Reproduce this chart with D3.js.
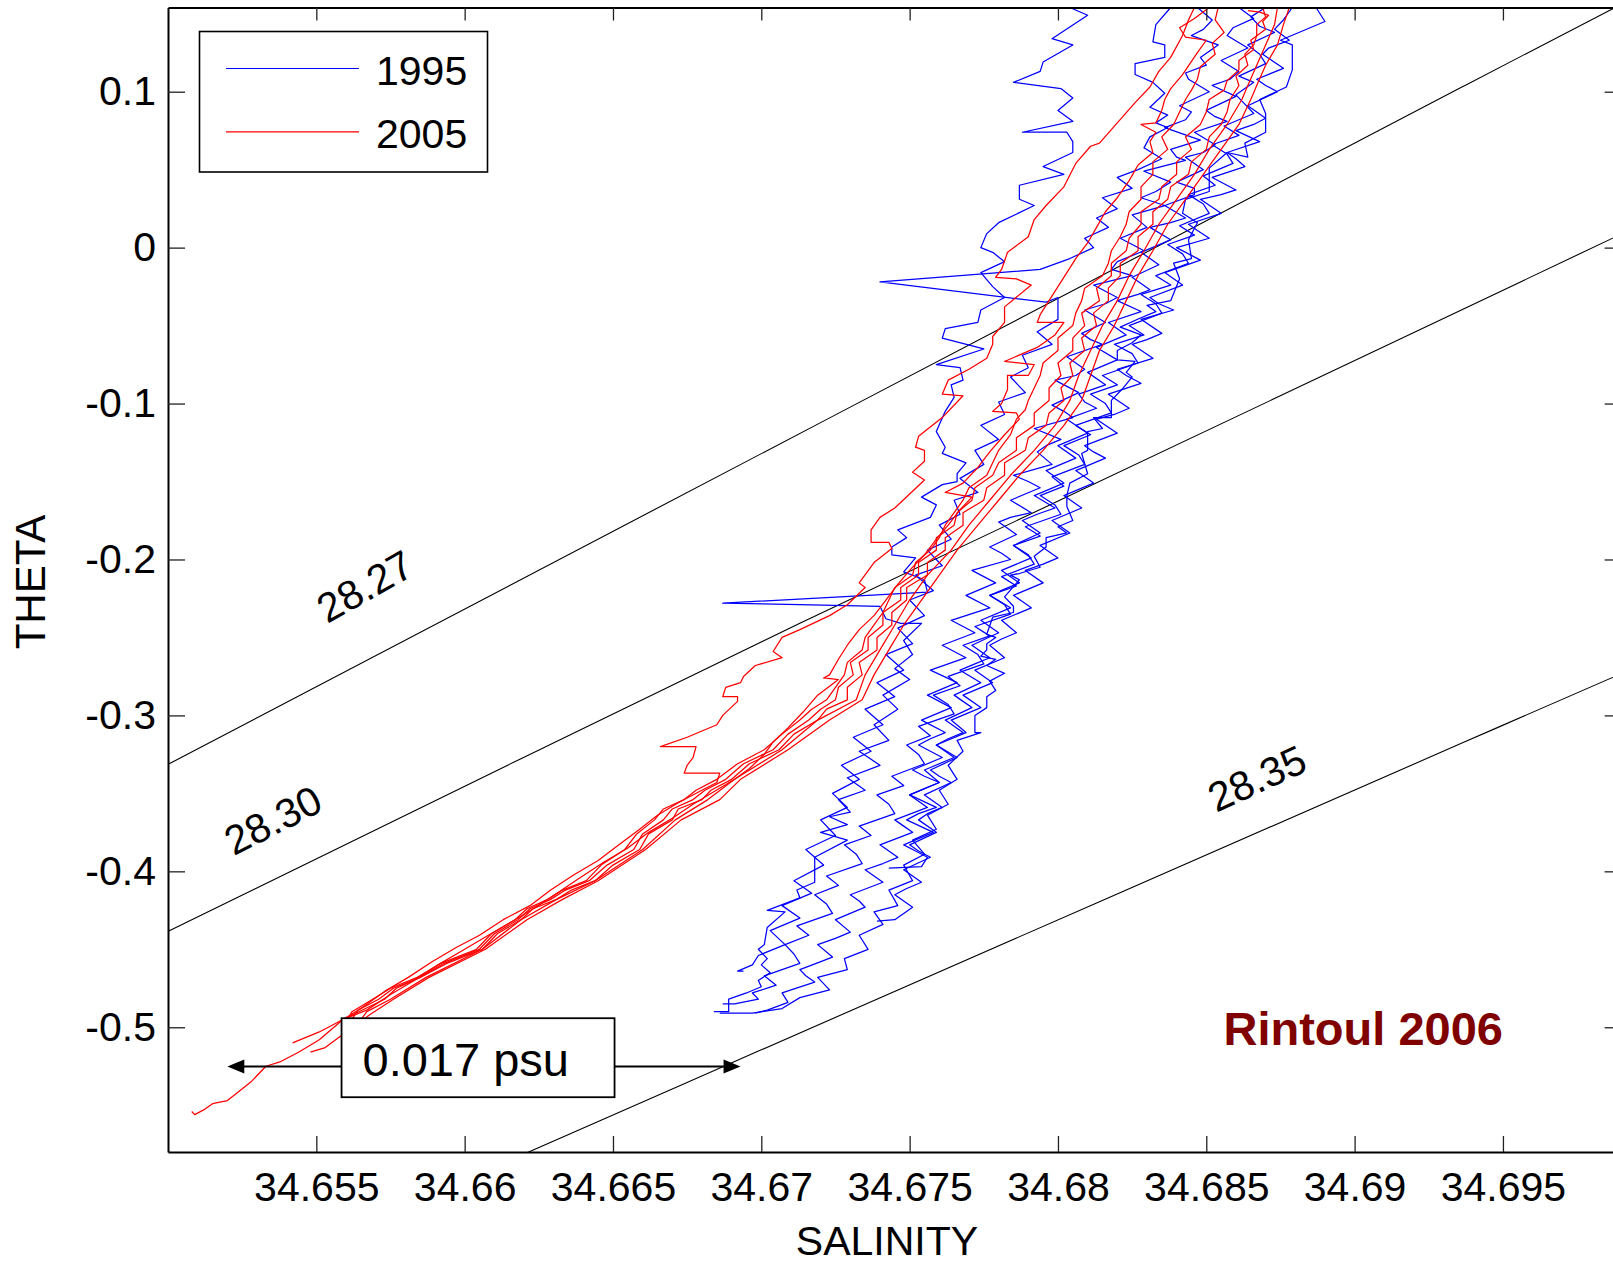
<!DOCTYPE html>
<html>
<head>
<meta charset="utf-8">
<script src="https://cdn.jsdelivr.net/npm/d3@7"></script>
<style>
  body { margin: 0; background: #fff; }
  svg { display: block; }
  text { font-family: "Liberation Sans", Arial, Helvetica, sans-serif; }
</style>
</head>
<body>
<script>
// axis ticks
const salinityTicks = [34.655, 34.66, 34.665, 34.67, 34.675, 34.68, 34.685, 34.69, 34.695];
const thetaTicks = [0.1, 0, -0.1, -0.2, -0.3, -0.4, -0.5];
const years = ["1995", "2005"];

// isopycnals [salinity, theta]
const sigmaLevels = ["28.27", "28.30", "28.35"];
const iso2827 = [[34.6495, -0.3364], [34.6936, 0.1028], [34.6990, 0.1562]];
const iso2830 = [[34.6495, -0.4432], [34.6713, -0.2409], [34.6881, -0.0896], [34.6991, 0.0097]];
const iso2835 = [[34.6615, -0.5855], [34.6700, -0.5145], [34.6936, -0.3179], [34.6991, -0.2723]];

// 1995 casts [salinity, theta]
const cast95a = [[34.6804,.154],[34.6810,.149],[34.6798,.134],[34.6805,.130],[34.6795,.119],[34.6794,.113],[34.6785,.106],[34.6801,.102],[34.6805,.096],[34.6800,.088],[34.6805,.081],[34.6788,.074],[34.6803,.074],[34.6805,.068],[34.6805,.061],[34.6795,.052],[34.6802,.047],[34.6787,.040],[34.6787,.031],[34.6792,.027],[34.6780,.016],[34.6776,.009],[34.6774,.000],[34.6778,-.003],[34.6782,-.009],[34.6774,-.016],[34.6778,-.025],[34.6782,-.032],[34.6774,-.040],[34.6773,-.048],[34.6762,-.052],[34.6761,-.058],[34.6775,-.065],[34.6759,-.075],[34.6767,-.077],[34.6768,-.085],[34.6764,-.088],[34.6765,-.096],[34.6762,-.105],[34.6759,-.118],[34.6762,-.128],[34.6761,-.132],[34.6769,-.138],[34.6766,-.145],[34.6766,-.150],[34.6761,-.152],[34.6754,-.160],[34.6759,-.165],[34.6757,-.173],[34.6746,-.181],[34.6749,-.186],[34.6744,-.192],[34.6744,-.197],[34.6752,-.199],[34.6748,-.208],[34.6755,-.213],[34.6756,-.221],[34.6687,-.228],[34.6713,-.229],[34.6740,-.230],[34.6742,-.238],[34.6747,-.241],[34.6754,-.241],[34.6748,-.252],[34.6751,-.261],[34.6745,-.270],[34.6750,-.277],[34.6741,-.287],[34.6746,-.296],[34.6738,-.306],[34.6743,-.316],[34.6733,-.323],[34.6740,-.332],[34.6729,-.340],[34.6735,-.348],[34.6726,-.354],[34.6730,-.362],[34.6723,-.365],[34.6729,-.370],[34.6720,-.375],[34.6729,-.380],[34.6718,-.391],[34.6718,-.407],[34.6712,-.412],[34.6713,-.417],[34.6702,-.425],[34.6708,-.426],[34.6702,-.436],[34.6701,-.447],[34.6699,-.450],[34.6702,-.456],[34.6700,-.460],[34.6703,-.465],[34.6699,-.470],[34.6700,-.474],[34.6695,-.478],[34.6689,-.482],[34.6689,-.490],[34.6684,-.490]];
const cast95b = [[34.6838,.154],[34.6833,.143],[34.6832,.132],[34.6836,.130],[34.6836,.122],[34.6826,.118],[34.6826,.111],[34.6832,.106],[34.6836,.099],[34.6831,.090],[34.6837,.085],[34.6833,.080],[34.6837,.077],[34.6831,.071],[34.6829,.064],[34.6835,.057],[34.6827,.050],[34.6820,.045],[34.6825,.038],[34.6815,.032],[34.6820,.025],[34.6813,.019],[34.6817,.013],[34.6809,.006],[34.6812,.000],[34.6804,-.007],[34.6794,-.014],[34.6740,-.022],[34.6796,-.035],[34.6800,-.032],[34.6800,-.046],[34.6793,-.054],[34.6798,-.062],[34.6788,-.069],[34.6790,-.077],[34.6784,-.083],[34.6789,-.093],[34.6780,-.099],[34.6782,-.107],[34.6774,-.114],[34.6780,-.123],[34.6772,-.130],[34.6775,-.139],[34.6767,-.148],[34.6773,-.157],[34.6765,-.162],[34.6767,-.171],[34.6760,-.178],[34.6764,-.187],[34.6756,-.194],[34.6761,-.204],[34.6752,-.210],[34.6758,-.220],[34.6750,-.226],[34.6755,-.236],[34.6746,-.244],[34.6751,-.254],[34.6742,-.261],[34.6748,-.271],[34.6739,-.279],[34.6745,-.288],[34.6735,-.296],[34.6741,-.306],[34.6731,-.314],[34.6737,-.323],[34.6727,-.332],[34.6733,-.341],[34.6724,-.350],[34.6729,-.359],[34.6720,-.367],[34.6725,-.377],[34.6715,-.386],[34.6721,-.396],[34.6711,-.406],[34.6717,-.414],[34.6707,-.422],[34.6713,-.430],[34.6703,-.438],[34.6708,-.447],[34.6699,-.454],[34.6697,-.460],[34.6692,-.464],[34.6694,-.464]];
const cast95c = [[34.6847,.154],[34.6852,.146],[34.6849,.140],[34.6845,.136],[34.6854,.130],[34.6848,.122],[34.6850,.117],[34.6843,.112],[34.6844,.108],[34.6851,.100],[34.6841,.091],[34.6845,.087],[34.6843,.082],[34.6836,.077],[34.6848,.069],[34.6838,.063],[34.6840,.058],[34.6843,.056],[34.6829,.049],[34.6838,.042],[34.6833,.036],[34.6828,.032],[34.6836,.027],[34.6825,.021],[34.6830,.013],[34.6821,.006],[34.6826,.001],[34.6829,-.002],[34.6820,-.009],[34.6818,-.014],[34.6825,-.018],[34.6812,-.024],[34.6820,-.032],[34.6816,-.036],[34.6809,-.040],[34.6816,-.048],[34.6808,-.055],[34.6811,-.059],[34.6815,-.062],[34.6803,-.070],[34.6809,-.078],[34.6806,-.082],[34.6799,-.085],[34.6807,-.093],[34.6798,-.101],[34.6802,-.105],[34.6805,-.109],[34.6792,-.116],[34.6801,-.123],[34.6796,-.127],[34.6793,-.131],[34.6798,-.139],[34.6785,-.146],[34.6790,-.150],[34.6794,-.154],[34.6784,-.162],[34.6791,-.170],[34.6784,-.173],[34.6780,-.176],[34.6786,-.184],[34.6777,-.192],[34.6781,-.196],[34.6784,-.200],[34.6771,-.207],[34.6779,-.215],[34.6774,-.219],[34.6769,-.223],[34.6777,-.231],[34.6764,-.239],[34.6768,-.243],[34.6772,-.247],[34.6761,-.255],[34.6769,-.263],[34.6763,-.267],[34.6757,-.271],[34.6766,-.279],[34.6756,-.287],[34.6760,-.291],[34.6764,-.295],[34.6754,-.303],[34.6762,-.311],[34.6757,-.315],[34.6753,-.319],[34.6761,-.327],[34.6751,-.335],[34.6755,-.339],[34.6760,-.343],[34.6750,-.351],[34.6759,-.359],[34.6753,-.363],[34.6749,-.367],[34.6758,-.375],[34.6748,-.383],[34.6752,-.387],[34.6756,-.391],[34.6754,-.397],[34.6743,-.398]];
const cast95d = [[34.6861,.154],[34.6866,.147],[34.6859,.141],[34.6857,.136],[34.6864,.128],[34.6855,.120],[34.6861,.113],[34.6858,.108],[34.6852,.104],[34.6860,.097],[34.6850,.088],[34.6853,.084],[34.6857,.081],[34.6846,.074],[34.6853,.066],[34.6849,.061],[34.6843,.058],[34.6849,.050],[34.6840,.042],[34.6846,.038],[34.6846,.034],[34.6836,.027],[34.6843,.019],[34.6838,.016],[34.6831,.013],[34.6838,.005],[34.6828,-.003],[34.6831,-.007],[34.6834,-.011],[34.6825,-.019],[34.6831,-.027],[34.6827,-.030],[34.6820,-.034],[34.6828,-.041],[34.6817,-.048],[34.6820,-.052],[34.6823,-.056],[34.6813,-.064],[34.6820,-.072],[34.6815,-.076],[34.6810,-.080],[34.6816,-.088],[34.6807,-.094],[34.6809,-.099],[34.6813,-.103],[34.6803,-.110],[34.6810,-.119],[34.6805,-.123],[34.6800,-.127],[34.6806,-.135],[34.6796,-.143],[34.6799,-.147],[34.6802,-.151],[34.6792,-.159],[34.6799,-.167],[34.6793,-.171],[34.6788,-.175],[34.6794,-.183],[34.6785,-.191],[34.6788,-.195],[34.6791,-.199],[34.6781,-.207],[34.6787,-.215],[34.6782,-.219],[34.6777,-.223],[34.6784,-.231],[34.6774,-.239],[34.6777,-.243],[34.6780,-.247],[34.6771,-.255],[34.6777,-.263],[34.6772,-.267],[34.6767,-.271],[34.6774,-.279],[34.6765,-.287],[34.6768,-.291],[34.6771,-.295],[34.6762,-.303],[34.6768,-.311],[34.6763,-.315],[34.6759,-.319],[34.6766,-.327],[34.6757,-.335],[34.6760,-.339],[34.6764,-.343],[34.6755,-.351],[34.6761,-.359],[34.6756,-.363],[34.6753,-.367],[34.6759,-.375],[34.6750,-.383],[34.6753,-.387],[34.6757,-.391],[34.6748,-.399],[34.6754,-.407],[34.6749,-.411],[34.6745,-.415],[34.6751,-.423],[34.6745,-.431],[34.6739,-.432]];
const cast95e = [[34.6879,.154],[34.6876,.146],[34.6873,.140],[34.6878,.133],[34.6871,.128],[34.6869,.124],[34.6876,.115],[34.6867,.108],[34.6870,.104],[34.6874,.100],[34.6864,.091],[34.6870,.083],[34.6866,.079],[34.6860,.075],[34.6868,.068],[34.6857,.061],[34.6860,.057],[34.6863,.052],[34.6852,.045],[34.6860,.037],[34.6855,.034],[34.6848,.031],[34.6855,.022],[34.6844,.015],[34.6847,.011],[34.6851,.006],[34.6840,.000],[34.6848,-.008],[34.6842,-.012],[34.6836,-.016],[34.6842,-.024],[34.6831,-.032],[34.6834,-.036],[34.6839,-.040],[34.6828,-.046],[34.6835,-.055],[34.6830,-.059],[34.6825,-.062],[34.6832,-.071],[34.6820,-.078],[34.6823,-.082],[34.6828,-.087],[34.6817,-.094],[34.6824,-.103],[34.6819,-.107],[34.6813,-.110],[34.6820,-.119],[34.6809,-.127],[34.6812,-.131],[34.6816,-.135],[34.6806,-.143],[34.6812,-.151],[34.6807,-.155],[34.6802,-.159],[34.6808,-.167],[34.6798,-.175],[34.6801,-.179],[34.6804,-.183],[34.6794,-.191],[34.6800,-.199],[34.6795,-.203],[34.6789,-.207],[34.6795,-.215],[34.6785,-.223],[34.6788,-.227],[34.6791,-.231],[34.6781,-.239],[34.6786,-.247],[34.6781,-.251],[34.6777,-.255],[34.6782,-.263],[34.6772,-.271],[34.6775,-.275],[34.6778,-.279],[34.6768,-.287],[34.6774,-.295],[34.6769,-.299],[34.6764,-.303],[34.6769,-.311],[34.6759,-.319],[34.6762,-.323],[34.6765,-.327],[34.6755,-.335],[34.6760,-.343],[34.6755,-.347],[34.6750,-.351],[34.6756,-.359],[34.6745,-.367],[34.6748,-.371],[34.6751,-.375],[34.6740,-.383],[34.6746,-.391],[34.6741,-.395],[34.6735,-.399],[34.6741,-.407],[34.6730,-.415],[34.6733,-.419],[34.6735,-.423],[34.6725,-.431],[34.6730,-.439],[34.6725,-.443],[34.6719,-.447],[34.6724,-.455],[34.6713,-.463],[34.6715,-.467],[34.6718,-.471],[34.6707,-.478],[34.6709,-.484],[34.6702,-.489],[34.6698,-.491]];
const cast95f = [[34.6887,.154],[34.6890,.145],[34.6875,.133],[34.6879,.130],[34.6879,.114],[34.6877,.103],[34.6868,.095],[34.6870,.086],[34.6870,.074],[34.6863,.067],[34.6864,.058],[34.6857,.061],[34.6851,.051],[34.6851,.036],[34.6843,.031],[34.6842,.022],[34.6847,.016],[34.6844,.005],[34.6845,-.007],[34.6839,-.010],[34.6841,-.020],[34.6838,-.034],[34.6830,-.037],[34.6833,-.041],[34.6828,-.045],[34.6821,-.051],[34.6828,-.056],[34.6825,-.061],[34.6820,-.066],[34.6820,-.072],[34.6826,-.073],[34.6823,-.080],[34.6825,-.083],[34.6822,-.090],[34.6818,-.098],[34.6818,-.109],[34.6812,-.109],[34.6815,-.116],[34.6810,-.118],[34.6810,-.130],[34.6808,-.132],[34.6810,-.145],[34.6804,-.151],[34.6803,-.159],[34.6803,-.166],[34.6805,-.175],[34.6800,-.179],[34.6803,-.183],[34.6796,-.186],[34.6796,-.192],[34.6792,-.198],[34.6794,-.205],[34.6787,-.209],[34.6784,-.210],[34.6787,-.213],[34.6782,-.224],[34.6785,-.230],[34.6785,-.234],[34.6778,-.237],[34.6776,-.248],[34.6779,-.250],[34.6776,-.254],[34.6776,-.258],[34.6774,-.262],[34.6779,-.264],[34.6776,-.268],[34.6782,-.273],[34.6777,-.278],[34.6779,-.284],[34.6776,-.288],[34.6776,-.295],[34.6772,-.300],[34.6772,-.311],[34.6774,-.311],[34.6766,-.316],[34.6768,-.323],[34.6763,-.332],[34.6766,-.341],[34.6760,-.348],[34.6763,-.357],[34.6756,-.364],[34.6759,-.373],[34.6751,-.380],[34.6755,-.389],[34.6748,-.396],[34.6751,-.406],[34.6743,-.412],[34.6746,-.422],[34.6738,-.426],[34.6741,-.434],[34.6733,-.441],[34.6736,-.450],[34.6728,-.456],[34.6729,-.463],[34.6719,-.468],[34.6723,-.476],[34.6713,-.481],[34.6707,-.488],[34.6697,-.491],[34.6686,-.491]];
const cast95g = [[34.6870,.154],[34.6865,.148],[34.6868,.142],[34.6873,.138],[34.6864,.130],[34.6868,.124],[34.6870,.118],[34.6861,.110],[34.6866,.106],[34.6860,.098],[34.6863,.092],[34.6866,.086],[34.6856,.078],[34.6861,.072],[34.6852,.066],[34.6857,.060],[34.6859,.054],[34.6849,.046],[34.6853,.040],[34.6844,.034],[34.6849,.028],[34.6851,.022],[34.6841,.014],[34.6846,.008],[34.6837,.002],[34.6842,-.004],[34.6844,-.010],[34.6833,-.018],[34.6838,-.024],[34.6828,-.030],[34.6833,-.036],[34.6835,-.042],[34.6824,-.050],[34.6829,-.056],[34.6819,-.062],[34.6825,-.068],[34.6827,-.074],[34.6815,-.082],[34.6820,-.088],[34.6811,-.094],[34.6816,-.100],[34.6818,-.106],[34.6806,-.114],[34.6811,-.120],[34.6802,-.127],[34.6807,-.133],[34.6809,-.139],[34.6798,-.147],[34.6802,-.153],[34.6794,-.159],[34.6799,-.165],[34.6801,-.171],[34.6789,-.179],[34.6794,-.185],[34.6785,-.191],[34.6790,-.197],[34.6792,-.203],[34.6781,-.211],[34.6786,-.217],[34.6777,-.223],[34.6782,-.229],[34.6784,-.235],[34.6772,-.243],[34.6777,-.249],[34.6768,-.255],[34.6773,-.261],[34.6775,-.267],[34.6763,-.275],[34.6767,-.281],[34.6758,-.287],[34.6763,-.293],[34.6765,-.299],[34.6753,-.307],[34.6757,-.313],[34.6749,-.319],[34.6753,-.325],[34.6755,-.331],[34.6744,-.339],[34.6748,-.345],[34.6739,-.351],[34.6743,-.357],[34.6745,-.363],[34.6733,-.371],[34.6737,-.377],[34.6728,-.383],[34.6732,-.389],[34.6734,-.395],[34.6722,-.403],[34.6726,-.409],[34.6718,-.415],[34.6722,-.421],[34.6724,-.427],[34.6712,-.435],[34.6716,-.441],[34.6708,-.447],[34.6711,-.453],[34.6713,-.459],[34.6701,-.467],[34.6705,-.473],[34.6697,-.478],[34.6699,-.482],[34.6691,-.485],[34.6687,-.485]];

// 2005 casts [salinity, theta]
const cast05a = [[34.6846,.154],[34.6844,.146],[34.6842,.136],[34.6838,.122],[34.6834,.113],[34.6831,.103],[34.6826,.093],[34.6820,.080],[34.6814,.067],[34.6811,.065],[34.6806,.054],[34.6802,.039],[34.6796,.027],[34.6792,.018],[34.6790,.007],[34.6783,-.003],[34.6781,-.014],[34.6779,-.019],[34.6786,-.020],[34.6791,-.024],[34.6782,-.038],[34.6782,-.041],[34.6782,-.048],[34.6778,-.057],[34.6778,-.062],[34.6776,-.071],[34.6770,-.078],[34.6763,-.085],[34.6761,-.094],[34.6768,-.095],[34.6761,-.109],[34.6753,-.121],[34.6752,-.128],[34.6755,-.130],[34.6755,-.137],[34.6751,-.144],[34.6755,-.149],[34.6745,-.167],[34.6740,-.173],[34.6737,-.181],[34.6737,-.189],[34.6743,-.189],[34.6744,-.193],[34.6738,-.202],[34.6733,-.215],[34.6735,-.218],[34.6729,-.229],[34.6723,-.236],[34.6713,-.245],[34.6707,-.250],[34.6704,-.259],[34.6707,-.263],[34.6698,-.268],[34.6694,-.275],[34.6693,-.279],[34.6688,-.282],[34.6687,-.288],[34.6692,-.288],[34.6692,-.291],[34.6687,-.300],[34.6685,-.306],[34.6675,-.314],[34.6666,-.320],[34.6678,-.320],[34.6677,-.327],[34.6675,-.332],[34.6674,-.337],[34.6686,-.337],[34.6685,-.343],[34.6679,-.349],[34.6672,-.356],[34.6665,-.364],[34.6659,-.373],[34.6652,-.383],[34.6645,-.393],[34.6637,-.402],[34.6629,-.412],[34.6622,-.422],[34.6613,-.431],[34.6605,-.441],[34.6597,-.449],[34.6589,-.458],[34.6581,-.468],[34.6573,-.477],[34.6565,-.488],[34.6559,-.495]];
const cast05b = [[34.6851,.154],[34.6846,.147],[34.6841,.141],[34.6843,.135],[34.6850,.133],[34.6847,.125],[34.6842,.111],[34.6838,.102],[34.6836,.095],[34.6835,.088],[34.6833,.080],[34.6828,.079],[34.6833,.074],[34.6831,.068],[34.6832,.061],[34.6827,.053],[34.6824,.043],[34.6820,.032],[34.6816,.023],[34.6813,.013],[34.6810,.003],[34.6806,-.007],[34.6803,-.016],[34.6800,-.025],[34.6797,-.034],[34.6794,-.043],[34.6793,-.048],[34.6802,-.048],[34.6799,-.056],[34.6793,-.064],[34.6782,-.073],[34.6792,-.075],[34.6790,-.082],[34.6783,-.082],[34.6783,-.091],[34.6781,-.100],[34.6778,-.105],[34.6786,-.106],[34.6787,-.110],[34.6782,-.120],[34.6777,-.131],[34.6773,-.141],[34.6768,-.151],[34.6762,-.157],[34.6771,-.160],[34.6767,-.168],[34.6763,-.178],[34.6759,-.187],[34.6755,-.197],[34.6750,-.207],[34.6746,-.216],[34.6742,-.226],[34.6738,-.236],[34.6733,-.245],[34.6729,-.255],[34.6726,-.264],[34.6723,-.274],[34.6721,-.276],[34.6726,-.277],[34.6719,-.287],[34.6714,-.298],[34.6709,-.308],[34.6704,-.317],[34.6701,-.325],[34.6696,-.334],[34.6691,-.341],[34.6684,-.349],[34.6677,-.357],[34.6670,-.366],[34.6662,-.375],[34.6655,-.385],[34.6647,-.394],[34.6639,-.404],[34.6632,-.413],[34.6624,-.423],[34.6617,-.431],[34.6608,-.441],[34.6600,-.450],[34.6591,-.460],[34.6583,-.470],[34.6575,-.479],[34.6567,-.489],[34.6559,-.495],[34.6551,-.508],[34.6544,-.516],[34.6538,-.522],[34.6533,-.525],[34.6528,-.535],[34.6524,-.541],[34.6520,-.547],[34.6515,-.549],[34.6512,-.553],[34.6509,-.556],[34.6508,-.554]];
const cast05c = [[34.6854,.154],[34.6853,.146],[34.6856,.138],[34.6852,.131],[34.6853,.124],[34.6848,.116],[34.6847,.108],[34.6845,.101],[34.6843,.095],[34.6841,.087],[34.6839,.079],[34.6835,.071],[34.6837,.063],[34.6832,.055],[34.6832,.047],[34.6828,.039],[34.6828,.031],[34.6824,.023],[34.6823,.015],[34.6821,.007],[34.6818,-.002],[34.6817,-.010],[34.6815,-.018],[34.6809,-.026],[34.6808,-.034],[34.6806,-.042],[34.6805,-.050],[34.6800,-.058],[34.6800,-.066],[34.6795,-.074],[34.6794,-.082],[34.6792,-.090],[34.6790,-.098],[34.6789,-.104],[34.6786,-.110],[34.6784,-.120],[34.6780,-.130],[34.6778,-.138],[34.6776,-.146],[34.6770,-.154],[34.6768,-.162],[34.6765,-.170],[34.6762,-.178],[34.6760,-.186],[34.6757,-.194],[34.6752,-.202],[34.6751,-.210],[34.6745,-.218],[34.6743,-.226],[34.6741,-.234],[34.6738,-.242],[34.6735,-.250],[34.6734,-.258],[34.6729,-.266],[34.6728,-.274],[34.6725,-.282],[34.6722,-.290],[34.6717,-.296],[34.6713,-.303],[34.6707,-.312],[34.6701,-.322],[34.6692,-.331],[34.6685,-.341],[34.6678,-.348],[34.6674,-.354],[34.6667,-.360],[34.6664,-.367],[34.6658,-.376],[34.6654,-.386],[34.6646,-.396],[34.6641,-.406],[34.6633,-.412],[34.6628,-.418],[34.6621,-.424],[34.6617,-.431],[34.6609,-.440],[34.6604,-.450],[34.6592,-.459],[34.6584,-.468],[34.6575,-.475],[34.6569,-.482],[34.6562,-.490],[34.6560,-.497]];
const cast05d = [[34.6864,.152],[34.6868,.151],[34.6871,.149],[34.6869,.145],[34.6870,.140],[34.6865,.133],[34.6866,.127],[34.6861,.120],[34.6861,.114],[34.6857,.107],[34.6856,.101],[34.6851,.095],[34.6850,.087],[34.6848,.079],[34.6843,.071],[34.6845,.063],[34.6840,.055],[34.6840,.047],[34.6835,.039],[34.6834,.031],[34.6828,.023],[34.6828,.015],[34.6824,.006],[34.6823,-.002],[34.6818,-.010],[34.6818,-.018],[34.6813,-.026],[34.6814,-.034],[34.6808,-.042],[34.6809,-.050],[34.6805,-.058],[34.6805,-.066],[34.6800,-.074],[34.6801,-.082],[34.6797,-.090],[34.6797,-.098],[34.6792,-.106],[34.6792,-.114],[34.6786,-.122],[34.6786,-.130],[34.6780,-.138],[34.6778,-.146],[34.6772,-.154],[34.6771,-.162],[34.6766,-.170],[34.6765,-.178],[34.6759,-.186],[34.6759,-.194],[34.6753,-.202],[34.6753,-.210],[34.6747,-.218],[34.6747,-.226],[34.6741,-.234],[34.6741,-.242],[34.6736,-.250],[34.6736,-.258],[34.6730,-.266],[34.6731,-.274],[34.6726,-.282],[34.6725,-.290],[34.6720,-.296],[34.6716,-.303],[34.6709,-.312],[34.6704,-.322],[34.6694,-.331],[34.6688,-.341],[34.6681,-.348],[34.6677,-.354],[34.6670,-.360],[34.6667,-.367],[34.6660,-.376],[34.6657,-.386],[34.6648,-.396],[34.6642,-.406],[34.6634,-.412],[34.6629,-.418],[34.6622,-.424],[34.6618,-.431],[34.6610,-.440],[34.6605,-.450],[34.6593,-.459],[34.6585,-.468],[34.6576,-.475],[34.6571,-.482],[34.6564,-.489],[34.6561,-.498]];
const cast05e = [[34.6869,.154],[34.6870,.148],[34.6867,.143],[34.6867,.136],[34.6866,.130],[34.6863,.124],[34.6864,.117],[34.6860,.110],[34.6861,.104],[34.6858,.095],[34.6857,.087],[34.6855,.079],[34.6851,.071],[34.6850,.063],[34.6845,.055],[34.6844,.047],[34.6838,.039],[34.6837,.031],[34.6832,.023],[34.6832,.015],[34.6827,.007],[34.6827,-.002],[34.6821,-.010],[34.6821,-.018],[34.6817,-.026],[34.6817,-.034],[34.6812,-.042],[34.6813,-.050],[34.6808,-.058],[34.6809,-.066],[34.6804,-.074],[34.6805,-.082],[34.6801,-.090],[34.6802,-.098],[34.6797,-.106],[34.6796,-.114],[34.6790,-.122],[34.6789,-.130],[34.6782,-.138],[34.6782,-.146],[34.6776,-.154],[34.6775,-.162],[34.6768,-.170],[34.6768,-.178],[34.6762,-.186],[34.6762,-.194],[34.6756,-.202],[34.6756,-.210],[34.6749,-.218],[34.6749,-.226],[34.6744,-.234],[34.6744,-.242],[34.6739,-.250],[34.6739,-.258],[34.6733,-.266],[34.6734,-.274],[34.6729,-.282],[34.6729,-.290],[34.6722,-.296],[34.6719,-.303],[34.6711,-.312],[34.6706,-.322],[34.6696,-.331],[34.6690,-.341],[34.6683,-.348],[34.6680,-.354],[34.6672,-.360],[34.6670,-.367],[34.6662,-.376],[34.6659,-.386],[34.6650,-.396],[34.6644,-.406],[34.6636,-.412],[34.6631,-.418],[34.6623,-.424],[34.6619,-.431],[34.6611,-.440],[34.6606,-.450],[34.6594,-.459],[34.6585,-.468],[34.6577,-.475],[34.6573,-.482],[34.6559,-.495],[34.6551,-.503],[34.6542,-.510]];
const cast05f = [[34.6874,.154],[34.6873,.143],[34.6870,.130],[34.6867,.117],[34.6864,.104],[34.6862,.095],[34.6857,.079],[34.6851,.063],[34.6846,.047],[34.6840,.031],[34.6834,.015],[34.6829,-.002],[34.6824,-.018],[34.6820,-.034],[34.6815,-.050],[34.6811,-.066],[34.6807,-.082],[34.6804,-.098],[34.6799,-.114],[34.6792,-.130],[34.6784,-.146],[34.6777,-.162],[34.6770,-.178],[34.6764,-.194],[34.6756,-.210],[34.6750,-.226],[34.6745,-.242],[34.6740,-.258],[34.6735,-.274],[34.6732,-.290],[34.6719,-.303],[34.6707,-.322],[34.6691,-.341],[34.6682,-.354],[34.6671,-.367],[34.6660,-.386],[34.6644,-.406],[34.6631,-.418],[34.6619,-.431],[34.6606,-.450],[34.6587,-.468],[34.6575,-.482],[34.6567,-.490],[34.6564,-.498]];
const cast05g = [[34.6878,.154],[34.6876,.143],[34.6874,.130],[34.6870,.117],[34.6867,.104],[34.6865,.095],[34.6861,.079],[34.6855,.063],[34.6849,.047],[34.6843,.031],[34.6837,.015],[34.6832,-.002],[34.6827,-.018],[34.6823,-.034],[34.6819,-.050],[34.6814,-.066],[34.6811,-.082],[34.6808,-.098],[34.6802,-.114],[34.6795,-.130],[34.6787,-.146],[34.6780,-.162],[34.6773,-.178],[34.6766,-.194],[34.6760,-.210],[34.6754,-.226],[34.6748,-.242],[34.6743,-.258],[34.6738,-.274],[34.6734,-.290],[34.6723,-.303],[34.6709,-.322],[34.6693,-.341],[34.6686,-.354],[34.6673,-.367],[34.6661,-.386],[34.6645,-.406],[34.6633,-.418],[34.6621,-.431],[34.6607,-.450],[34.6588,-.468],[34.6576,-.482],[34.6568,-.492],[34.6558,-.506],[34.6553,-.513],[34.6548,-.516]];

const casts1995 = [cast95a, cast95b, cast95c, cast95d, cast95e, cast95f, cast95g];
const casts2005 = [cast05a, cast05b, cast05c, cast05d, cast05e, cast05f, cast05g];

// annotations (data coordinates)
const isoLabels = [
  { text: sigmaLevels[0], s: 34.65663, t: -0.2170, angle: -29.5 },
  { text: sigmaLevels[1], s: 34.65353, t: -0.3670, angle: -27 },
  { text: sigmaLevels[2], s: 34.68670, t: -0.3401, angle: -24.5 }
];
const psuArrow = [34.6520, 34.6693];
const psuArrowTheta = -0.5252;

const W = 1613, H = 1264;
const x = d3.scaleLinear().domain([34.65, 34.699]).range([168, 1621.6]);
const y = d3.scaleLinear().domain([-0.58, 0.154]).range([1152, 7.5]);
const colors = { "1995": "#0000ff", "2005": "#ff0000" };
const font = '"Liberation Sans", Arial, Helvetica, sans-serif';

const svg = d3.select("body").append("svg")
  .attr("width", W).attr("height", H)
  .attr("viewBox", `0 0 ${W} ${H}`);

svg.append("defs").append("clipPath").attr("id", "plotclip")
  .append("rect")
  .attr("x", x.range()[0]).attr("y", y.range()[1])
  .attr("width", x.range()[1] - x.range()[0])
  .attr("height", y.range()[0] - y.range()[1]);

const plot = svg.append("g").attr("clip-path", "url(#plotclip)");

const line = d3.line().x(d => x(d[0])).y(d => y(d[1]));
const smooth = d3.line().x(d => x(d[0])).y(d => y(d[1])).curve(d3.curveCatmullRom);

// isopycnals
plot.selectAll(".iso")
  .data([iso2827, iso2830, iso2835])
  .enter().append("path")
  .attr("d", smooth)
  .attr("fill", "none")
  .attr("stroke", "#000")
  .attr("stroke-width", 1.1);

// casts
plot.selectAll(".c95")
  .data(casts1995)
  .enter().append("path")
  .attr("d", line)
  .attr("fill", "none")
  .attr("stroke", colors["1995"])
  .attr("stroke-width", 1.25)
  .attr("stroke-linejoin", "round");

plot.selectAll(".c05")
  .data(casts2005)
  .enter().append("path")
  .attr("d", line)
  .attr("fill", "none")
  .attr("stroke", colors["2005"])
  .attr("stroke-width", 1.25)
  .attr("stroke-linejoin", "round");

// isopycnal labels
svg.selectAll(".isolab")
  .data(isoLabels)
  .enter().append("text")
  .attr("transform", d => `translate(${x(d.s)},${y(d.t)}) rotate(${d.angle})`)
  .attr("text-anchor", "middle")
  .attr("dy", "0.36em")
  .style("font-size", "41px")
  .text(d => d.text);

// axes
const fmtS = d => String(+d.toFixed(3));
const fmtT = d => String(+d.toFixed(1));

const gx = svg.append("g").attr("transform", `translate(0,${y.range()[0]})`)
  .call(d3.axisBottom(x).tickValues(salinityTicks).tickFormat(fmtS)
    .tickSizeInner(-16).tickSizeOuter(0).tickPadding(20));
const gxt = svg.append("g").attr("transform", `translate(0,${y.range()[1]})`)
  .call(d3.axisTop(x).tickValues(salinityTicks).tickFormat("")
    .tickSizeInner(-13).tickSizeOuter(0));
const gy = svg.append("g").attr("transform", `translate(${x.range()[0]},0)`)
  .call(d3.axisLeft(y).tickValues(thetaTicks).tickFormat(fmtT)
    .tickSizeInner(-17).tickSizeOuter(0).tickPadding(12));
const gyr = svg.append("g").attr("transform", `translate(${x.range()[1]},0)`)
  .call(d3.axisRight(y).tickValues(thetaTicks).tickFormat("")
    .tickSizeInner(-17).tickSizeOuter(0));

[gx, gxt, gy, gyr].forEach(g => {
  g.select(".domain").attr("stroke", "#000").attr("stroke-width", 2);
  g.selectAll(".tick line").attr("stroke", "#222").attr("stroke-width", 1.3);
  g.selectAll(".tick text").attr("fill", "#000")
    .style("font-family", font).style("font-size", "41px");
});

// axis titles
svg.append("text")
  .attr("x", 887).attr("y", 1255)
  .attr("text-anchor", "middle")
  .style("font-size", "41px")
  .text("SALINITY");
svg.append("text")
  .attr("transform", "translate(45,582) rotate(-90)")
  .attr("text-anchor", "middle")
  .style("font-size", "42px")
  .text("THETA");

// legend
const leg = svg.append("g");
leg.append("rect")
  .attr("x", 199.5).attr("y", 31.5).attr("width", 288).attr("height", 140.5)
  .attr("fill", "#fff").attr("stroke", "#000").attr("stroke-width", 1.6);
years.forEach((yr, i) => {
  const ly = 68.5 + i * 63.3;
  leg.append("line")
    .attr("x1", 226).attr("x2", 359).attr("y1", ly).attr("y2", ly)
    .attr("stroke", colors[yr]).attr("stroke-width", 1.2);
  leg.append("text")
    .attr("x", 376).attr("y", ly + 16)
    .style("font-size", "41px")
    .text(yr);
});

// 0.017 psu arrow
const ay = y(psuArrowTheta);
const ax0 = x(psuArrow[0]), ax1 = x(psuArrow[1]);
svg.append("line")
  .attr("x1", ax0 + 10).attr("x2", ax1 - 10).attr("y1", ay).attr("y2", ay)
  .attr("stroke", "#000").attr("stroke-width", 2);
svg.append("path")
  .attr("d", `M${ax0},${ay} L${ax0 + 17},${ay - 7} L${ax0 + 17},${ay + 7} Z`)
  .attr("fill", "#000");
svg.append("path")
  .attr("d", `M${ax1},${ay} L${ax1 - 17},${ay - 7} L${ax1 - 17},${ay + 7} Z`)
  .attr("fill", "#000");

const boxLeft = x(34.65585), boxTop = y(-0.4942);
svg.append("rect")
  .attr("x", boxLeft).attr("y", boxTop).attr("width", 273).attr("height", 79)
  .attr("fill", "#fff").attr("stroke", "#000").attr("stroke-width", 1.8);
svg.append("text")
  .attr("x", boxLeft + 21).attr("y", boxTop + 57.5)
  .style("font-size", "47px")
  .text("0.017 psu");

// credit
svg.append("text")
  .attr("x", x(34.68558)).attr("y", y(-0.5113))
  .style("font-size", "47px")
  .style("font-weight", "bold")
  .attr("fill", "#800000")
  .text("Rintoul 2006");
</script>
</body>
</html>
